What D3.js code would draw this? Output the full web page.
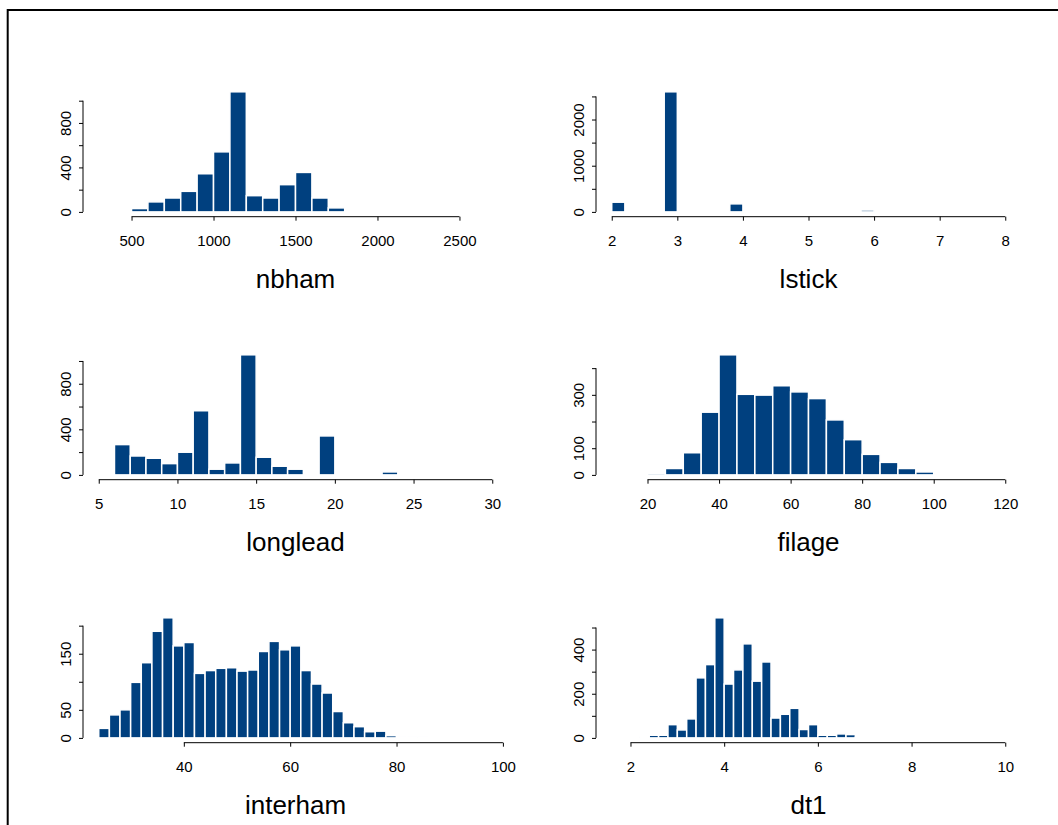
<!DOCTYPE html>
<html>
<head>
<meta charset="utf-8">
<script src="https://cdn.jsdelivr.net/npm/d3@7"></script>
<style>
  body { margin: 0; background: #fff; }
  svg { display: block; }
  text { font-family: "Liberation Sans", Arial, Helvetica, sans-serif; fill: #000; }
</style>
</head>
<body>
<svg id="chart" width="1058" height="825"></svg>
<script>
// ---- histogram data: first break, bin width, counts, axis ticks ----
const nbhamStart = 300, nbhamWidth = 100;
const nbhamCounts = [1, 1, 30, 90, 125, 185, 343, 540, 1080, 146, 125, 245, 355, 125, 36, 1, 0, 2, 4, 8, 2, 2, 2, 1];
const nbhamXTicks = [500, 1000, 1500, 2000, 2500];
const nbhamYTicks = [0, 200, 400, 600, 800, 1000];
const nbhamYLabels = [0, 400, 800];

const lstickStart = 2, lstickWidth = 0.2;
const lstickCounts = [210, 0, 0, 0, 2600, 0, 0, 0, 0, 174, 0, 0, 0, 0, 8, 0, 0, 0, 0, 40, 0, 0, 0, 0, 3, 0, 0, 0, 0, 0];
const lstickXTicks = [2, 3, 4, 5, 6, 7, 8];
const lstickYTicks = [0, 500, 1000, 1500, 2000, 2500];
const lstickYLabels = [0, 1000, 2000];

const longleadStart = 5, longleadWidth = 1;
const longleadCounts = [2, 266, 166, 146, 99, 199, 563, 50, 105, 1054, 155, 76, 50, 0, 342, 3, 1, 0, 26, 1, 0, 1, 0, 1, 1];
const longleadXTicks = [5, 10, 15, 20, 25, 30];
const longleadYTicks = [0, 200, 400, 600, 800, 1000];
const longleadYLabels = [0, 400, 800];

const filageStart = 10, filageWidth = 5;
const filageCounts = [1, 0, 6, 24, 83, 235, 450, 302, 299, 334, 311, 286, 206, 132, 77, 47, 24, 11, 1, 0, 1, 1];
const filageXTicks = [20, 40, 60, 80, 100, 120];
const filageYTicks = [0, 100, 200, 300, 400];
const filageYLabels = [0, 100, 300];

const interhamStart = 24, interhamWidth = 2;
const interhamCounts = [17, 41, 50, 99, 134, 190, 214, 164, 170, 115, 120, 124, 125, 119, 121, 154, 172, 157, 164, 120, 96, 80, 47, 27, 20, 11, 12, 4, 2, 2, 2, 0, 0, 0, 0, 0, 1];
const interhamXTicks = [40, 60, 80, 100];
const interhamYTicks = [0, 50, 100, 150, 200];
const interhamYLabels = [0, 50, 150];

const dt1Start = 1.6, dt1Width = 0.2;
const dt1Counts = [2, 2, 2, 6, 12, 12, 60, 36, 86, 272, 332, 544, 244, 308, 426, 257, 344, 90, 107, 134, 38, 60, 12, 12, 18, 15, 3, 2, 1, 1, 0, 0, 0, 0, 1, 0, 0, 0, 0, 0, 0, 1];
const dt1XTicks = [2, 4, 6, 8, 10];
const dt1YTicks = [0, 100, 200, 300, 400, 500];
const dt1YLabels = [0, 200, 400];

const panels = [
  { title: "nbham",    start: nbhamStart,    width: nbhamWidth,    counts: nbhamCounts,    xTicks: nbhamXTicks,    yTicks: nbhamYTicks,    yLabels: nbhamYLabels },
  { title: "lstick",   start: lstickStart,   width: lstickWidth,   counts: lstickCounts,   xTicks: lstickXTicks,   yTicks: lstickYTicks,   yLabels: lstickYLabels },
  { title: "longlead", start: longleadStart, width: longleadWidth, counts: longleadCounts, xTicks: longleadXTicks, yTicks: longleadYTicks, yLabels: longleadYLabels },
  { title: "filage",   start: filageStart,   width: filageWidth,   counts: filageCounts,   xTicks: filageXTicks,   yTicks: filageYTicks,   yLabels: filageYLabels },
  { title: "interham", start: interhamStart, width: interhamWidth, counts: interhamCounts, xTicks: interhamXTicks, yTicks: interhamYTicks, yLabels: interhamYLabels },
  { title: "dt1",      start: dt1Start,      width: dt1Width,      counts: dt1Counts,      xTicks: dt1XTicks,      yTicks: dt1YTicks,      yLabels: dt1YLabels }
];

// ---- layout: 3 x 2 grid of plot regions ----
const colX = [[83, 508], [596, 1021]];
const rowTop = 87, rowHeight = 129.7, rowStep = 263;
const barFill = "#00407f";

const svg = d3.select("#chart");

// outer frame
svg.append("rect")
  .attr("x", 7.7).attr("y", 10)
  .attr("width", 2000).attr("height", 2000)
  .attr("fill", "none").attr("stroke", "#000").attr("stroke-width", 2);

panels.forEach((p, i) => {
  const col = i % 2, row = Math.floor(i / 2);
  const [x0, x1] = colX[col];
  const y0 = rowTop + row * rowStep, y1 = y0 + rowHeight;

  const n = p.counts.length;
  const bins = p.counts.map((c, k) => ({
    lo: +(p.start + k * p.width).toFixed(6),
    hi: +(p.start + (k + 1) * p.width).toFixed(6),
    count: c
  }));
  const lo = p.start, hi = p.start + n * p.width;
  const padX = 0.04 * (hi - lo);
  const maxC = d3.max(p.counts);
  const padY = 0.04 * maxC;

  const x = d3.scaleLinear().domain([lo - padX, hi + padX]).range([x0, x1]);
  const y = d3.scaleLinear().domain([-padY, maxC + padY]).range([y1, y0]);

  const g = svg.append("g");

  // bars (white outlines, as in a base-graphics histogram)
  g.selectAll("rect.bar").data(bins).join("rect")
    .attr("class", "bar")
    .attr("x", d => x(d.lo))
    .attr("width", d => x(d.hi) - x(d.lo))
    .attr("y", d => y(d.count))
    .attr("height", d => y(0) - y(d.count))
    .attr("fill", barFill)
    .attr("stroke", "#fff")
    .attr("stroke-width", 1.5);

  // x axis
  const xa = g.append("g")
    .attr("transform", `translate(0,${y1})`)
    .call(d3.axisBottom(x).tickValues(p.xTicks).tickSize(4).tickSizeOuter(0).tickFormat(d3.format("d")));
  xa.select(".domain").attr("d", `M${x(p.xTicks[0])},0H${x(p.xTicks[p.xTicks.length - 1])}`);
  xa.selectAll("text").attr("y", 29.5).attr("dy", null).attr("font-size", 15);

  // y axis
  const ya = g.append("g")
    .attr("transform", `translate(${x0},0)`)
    .call(d3.axisLeft(y).tickValues(p.yTicks).tickSize(4).tickSizeOuter(0)
      .tickFormat(v => p.yLabels.includes(v) ? String(v) : ""));
  ya.select(".domain").attr("d", `M0,${y(p.yTicks[0])}V${y(p.yTicks[p.yTicks.length - 1])}`);
  ya.selectAll("text")
    .attr("transform", "rotate(-90)")
    .attr("x", 0).attr("y", -12.5).attr("dy", null)
    .attr("text-anchor", "middle")
    .attr("font-size", 15);

  svg.selectAll(".domain, .tick line").attr("stroke", "#000").attr("stroke-width", 1);
  svg.selectAll(".tick text").attr("fill", "#000").attr("font-family", null);

  // variable name under each histogram
  g.append("text")
    .attr("x", (x0 + x1) / 2)
    .attr("y", y1 + 71.5)
    .attr("text-anchor", "middle")
    .attr("font-size", 26)
    .text(p.title);
});
</script>
</body>
</html>
